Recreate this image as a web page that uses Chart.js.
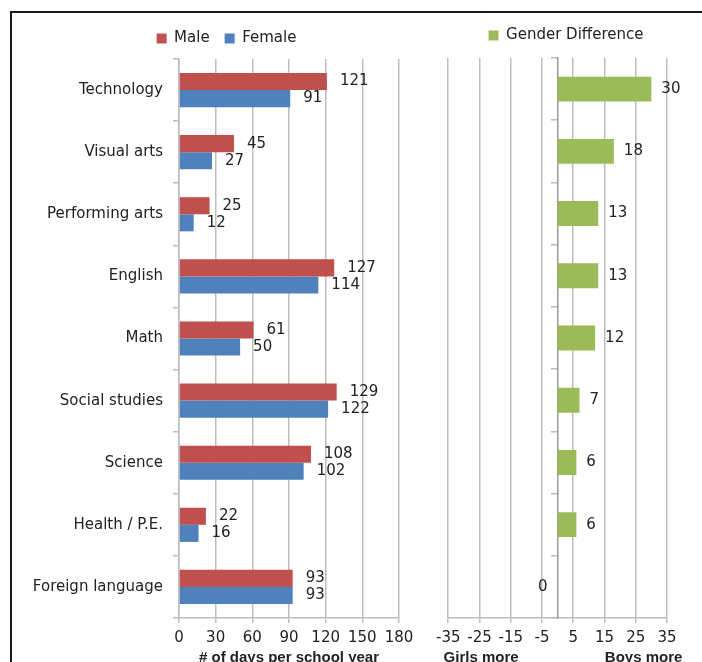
<!DOCTYPE html>
<html>
<head>
<meta charset="utf-8">
<title>Days per school year by subject and gender</title>
<script src="https://cdn.jsdelivr.net/npm/chart.js@4.4.1/dist/chart.umd.min.js"></script>
<style>
  html, body { margin: 0; padding: 0; background: #fff; width: 702px; height: 662px; overflow: hidden; }
  #frame { position: absolute; left: 10px; top: 11px; width: 760px; height: 720px;
           border-left: 2px solid #1a1a1a; border-top: 2px solid #1a1a1a; }
  #daysChart { position: absolute; left: 0; top: 0; }
  #diffChart { position: absolute; left: 430px; top: 0; }
</style>
</head>
<body>
<div id="frame"></div>
<canvas id="daysChart" width="454" height="680"></canvas>
<canvas id="diffChart" width="272" height="680"></canvas>
<script>
// Data
const subjects = [
  "Technology", "Visual arts", "Performing arts", "English", "Math",
  "Social studies", "Science", "Health / P.E.", "Foreign language"
];
const maleDays = [121, 45, 25, 127, 61, 129, 108, 22, 93];
const femaleDays = [91, 27, 12, 114, 50, 122, 102, 16, 93];
const genderDiff = [30, 18, 13, 13, 12, 7, 6, 6, 0];

const daysTicks = [0, 30, 60, 90, 120, 150, 180];
const diffTicks = [-35, -25, -15, -5, 5, 15, 25, 35];
const sideLabels = ["Girls more", "Boys more"];

const textFont = { family: "'DejaVu Sans'", size: 15 };
const titleFont = { family: "'Liberation Sans'", size: 15, weight: "bold" };
const textColor = "#222";
const gridColor = "#bdbdbd";

// Value labels at the end of each bar
const valueLabels = {
  id: "valueLabels",
  afterDatasetsDraw(chart, args, opts) {
    const ctx = chart.ctx;
    ctx.save();
    ctx.font = "15px 'DejaVu Sans'";
    ctx.fillStyle = textColor;
    ctx.textBaseline = "middle";
    chart.data.datasets.forEach((ds, i) => {
      const meta = chart.getDatasetMeta(i);
      meta.data.forEach((bar, j) => {
        const v = ds.data[j];
        if (v === 0) {
          ctx.textAlign = "right";
          ctx.fillText(v, bar.x - opts.offset, bar.y);
        } else {
          ctx.textAlign = "left";
          ctx.fillText(v, bar.x + opts.offset, bar.y);
        }
      });
    });
    ctx.restore();
  },
};

// nudge the legend after layout so it sits where the original had it
const legendShift = {
  id: "legendShift",
  afterLayout(chart, args, opts) {
    const lg = chart.legend;
    lg.left += opts.dx;
    lg.right += opts.dx;
    lg.top += opts.dy;
    lg.bottom += opts.dy;
  },
};

// "Girls more" / "Boys more" under the difference axis
const sideTitles = {
  id: "sideTitles",
  afterDraw(chart, args, opts) {
    const ctx = chart.ctx;
    const x = chart.scales.x;
    ctx.save();
    ctx.font = "bold 15px 'Liberation Sans'";
    ctx.fillStyle = textColor;
    ctx.textAlign = "center";
    ctx.textBaseline = "middle";
    sideLabels.forEach((txt, i) => {
      ctx.fillText(txt, x.getPixelForValue(opts.at[i]), opts.y);
    });
    ctx.restore();
  },
};

// Male / Female chart
new Chart(document.getElementById("daysChart"), {
  type: "bar",
  data: {
    labels: subjects,
    datasets: [
      { label: "Male", data: maleDays, backgroundColor: "#C0504D" },
      { label: "Female", data: femaleDays, backgroundColor: "#4F81BD" },
    ],
  },
  options: {
    indexAxis: "y",
    responsive: false,
    animation: false,
    categoryPercentage: 0.55,
    barPercentage: 1,
    layout: { padding: { top: 19, left: 0, right: 55, bottom: 0 } },
    plugins: {
      legend: {
        labels: { boxWidth: 10, boxHeight: 10, padding: 15, color: textColor, font: textFont },
      },
      tooltip: { enabled: false },
      valueLabels: { offset: 13 },
      legendShift: { dx: 27, dy: -3 },
    },
    scales: {
      x: {
        min: 0,
        max: 180,
        afterBuildTicks(scale) {
          scale.ticks = daysTicks.map((v) => ({ value: v }));
        },
        ticks: { padding: 6, color: textColor, font: textFont },
        grid: { color: gridColor, lineWidth: 1.5, tickLength: 5 },
        border: { color: gridColor, width: 1.5 },
        title: {
          display: true,
          text: "# of days per school year",
          color: textColor,
          font: titleFont,
          padding: { top: 0, bottom: 13 },
        },
        afterFit(scale) {
          scale.height = 62;
        },
      },
      y: {
        ticks: { padding: 10, color: textColor, font: textFont },
        grid: { offset: true, drawOnChartArea: false, tickLength: 6, color: gridColor, lineWidth: 1.5 },
        border: { color: gridColor, width: 1.5 },
        afterFit(scale) {
          scale.width = 179;
        },
      },
    },
  },
  plugins: [valueLabels, legendShift],
});

// Gender difference chart
new Chart(document.getElementById("diffChart"), {
  type: "bar",
  data: {
    labels: subjects,
    datasets: [
      { label: "Gender Difference", data: genderDiff, backgroundColor: "#9BBB59" },
    ],
  },
  options: {
    indexAxis: "y",
    responsive: false,
    animation: false,
    categoryPercentage: 0.4,
    barPercentage: 1,
    layout: { padding: { top: 17, left: 17, right: 35, bottom: 0 } },
    plugins: {
      legend: {
        labels: { boxWidth: 10, boxHeight: 10, padding: 16, color: textColor, font: textFont },
      },
      tooltip: { enabled: false },
      valueLabels: { offset: 10 },
      legendShift: { dx: 9, dy: -5 },
      sideTitles: { at: [-24.5, 27.5], y: 658 },
    },
    scales: {
      x: {
        min: -35,
        max: 35,
        afterBuildTicks(scale) {
          scale.ticks = diffTicks.map((v) => ({ value: v }));
        },
        ticks: { padding: 6, color: textColor, font: textFont },
        grid: { color: gridColor, lineWidth: 1.5, tickLength: 5 },
        border: { color: gridColor, width: 1.5 },
        afterFit(scale) {
          scale.height = 62;
        },
      },
      y: {
        position: { x: 0 },
        ticks: { display: false },
        grid: { offset: true, drawOnChartArea: false, tickLength: 6, color: gridColor, lineWidth: 1.5 },
        border: { color: "#9a9a9a", width: 1.5 },
      },
    },
  },
  plugins: [valueLabels, legendShift, sideTitles],
});
</script>
</body>
</html>
